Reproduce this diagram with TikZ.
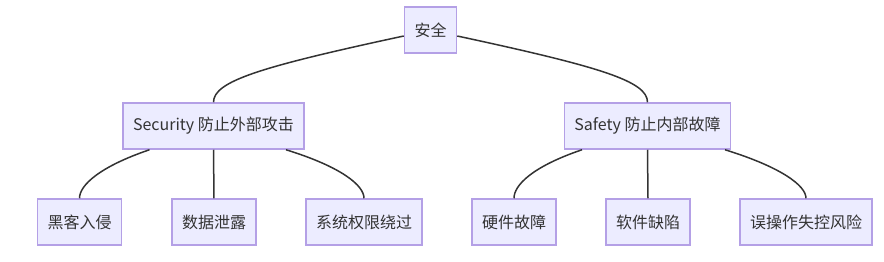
\documentclass[tikz,border=0pt]{standalone}
\usepackage{fontspec}
\setmainfont{Noto Sans CJK SC}
\usepackage{tikz}
\definecolor{boxFill}{RGB}{236,236,255}
\definecolor{boxLine}{RGB}{180,160,230}
\definecolor{edgeGray}{RGB}{51,51,51}
\definecolor{textGray}{RGB}{51,51,51}

\begin{document}
\begin{tikzpicture}[x=1pt,y=-1pt,
    box/.style={draw=boxLine, fill=boxFill, line width=1.5pt, minimum height=46pt,
      inner xsep=10pt, text=textGray, font=\fontsize{16}{19}\selectfont},
    edge/.style={draw=edgeGray, line width=1.5pt}]
  \useasboundingbox (0,0) rectangle (884,262);

  % top level
  \node[box] (root) at (430.5,30) {安全};

  % second level
  \node[box] (sec) at (213.5,126) {Security 防止外部攻击};
  \node[box] (saf) at (647.5,126) {Safety 防止内部故障};

  % leaves
  \node[box] (hack) at (79.5,222) {黑客入侵};
  \node[box] (leak) at (214,222) {数据泄露};
  \node[box] (bypass) at (364,222) {系统权限绕过};
  \node[box] (hw) at (514,222) {硬件故障};
  \node[box] (sw) at (648,222) {软件缺陷};
  \node[box] (misop) at (806,222) {误操作失控风险};

  \draw[edge] ([yshift=-6pt]root.west) .. controls +(-144,31) and +(0,-21) .. (sec.north);
  \draw[edge] ([yshift=-6pt]root.east) .. controls +(144,31) and +(0,-21) .. (saf.north);

  \draw[edge] ([xshift=-64pt]sec.south) .. controls +(-50,17) and +(0,-13) .. (hack.north);
  \draw[edge] (sec.south) -- (leak.north);
  \draw[edge] ([xshift=72.5pt]sec.south) .. controls +(55,17) and +(0,-13) .. (bypass.north);

  \draw[edge] ([xshift=-65.5pt]saf.south) .. controls +(-50,17) and +(0,-13) .. (hw.north);
  \draw[edge] (saf.south) -- (sw.north);
  \draw[edge] ([xshift=77.5pt]saf.south) .. controls +(55,17) and +(0,-13) .. (misop.north);
\end{tikzpicture}
\end{document}
